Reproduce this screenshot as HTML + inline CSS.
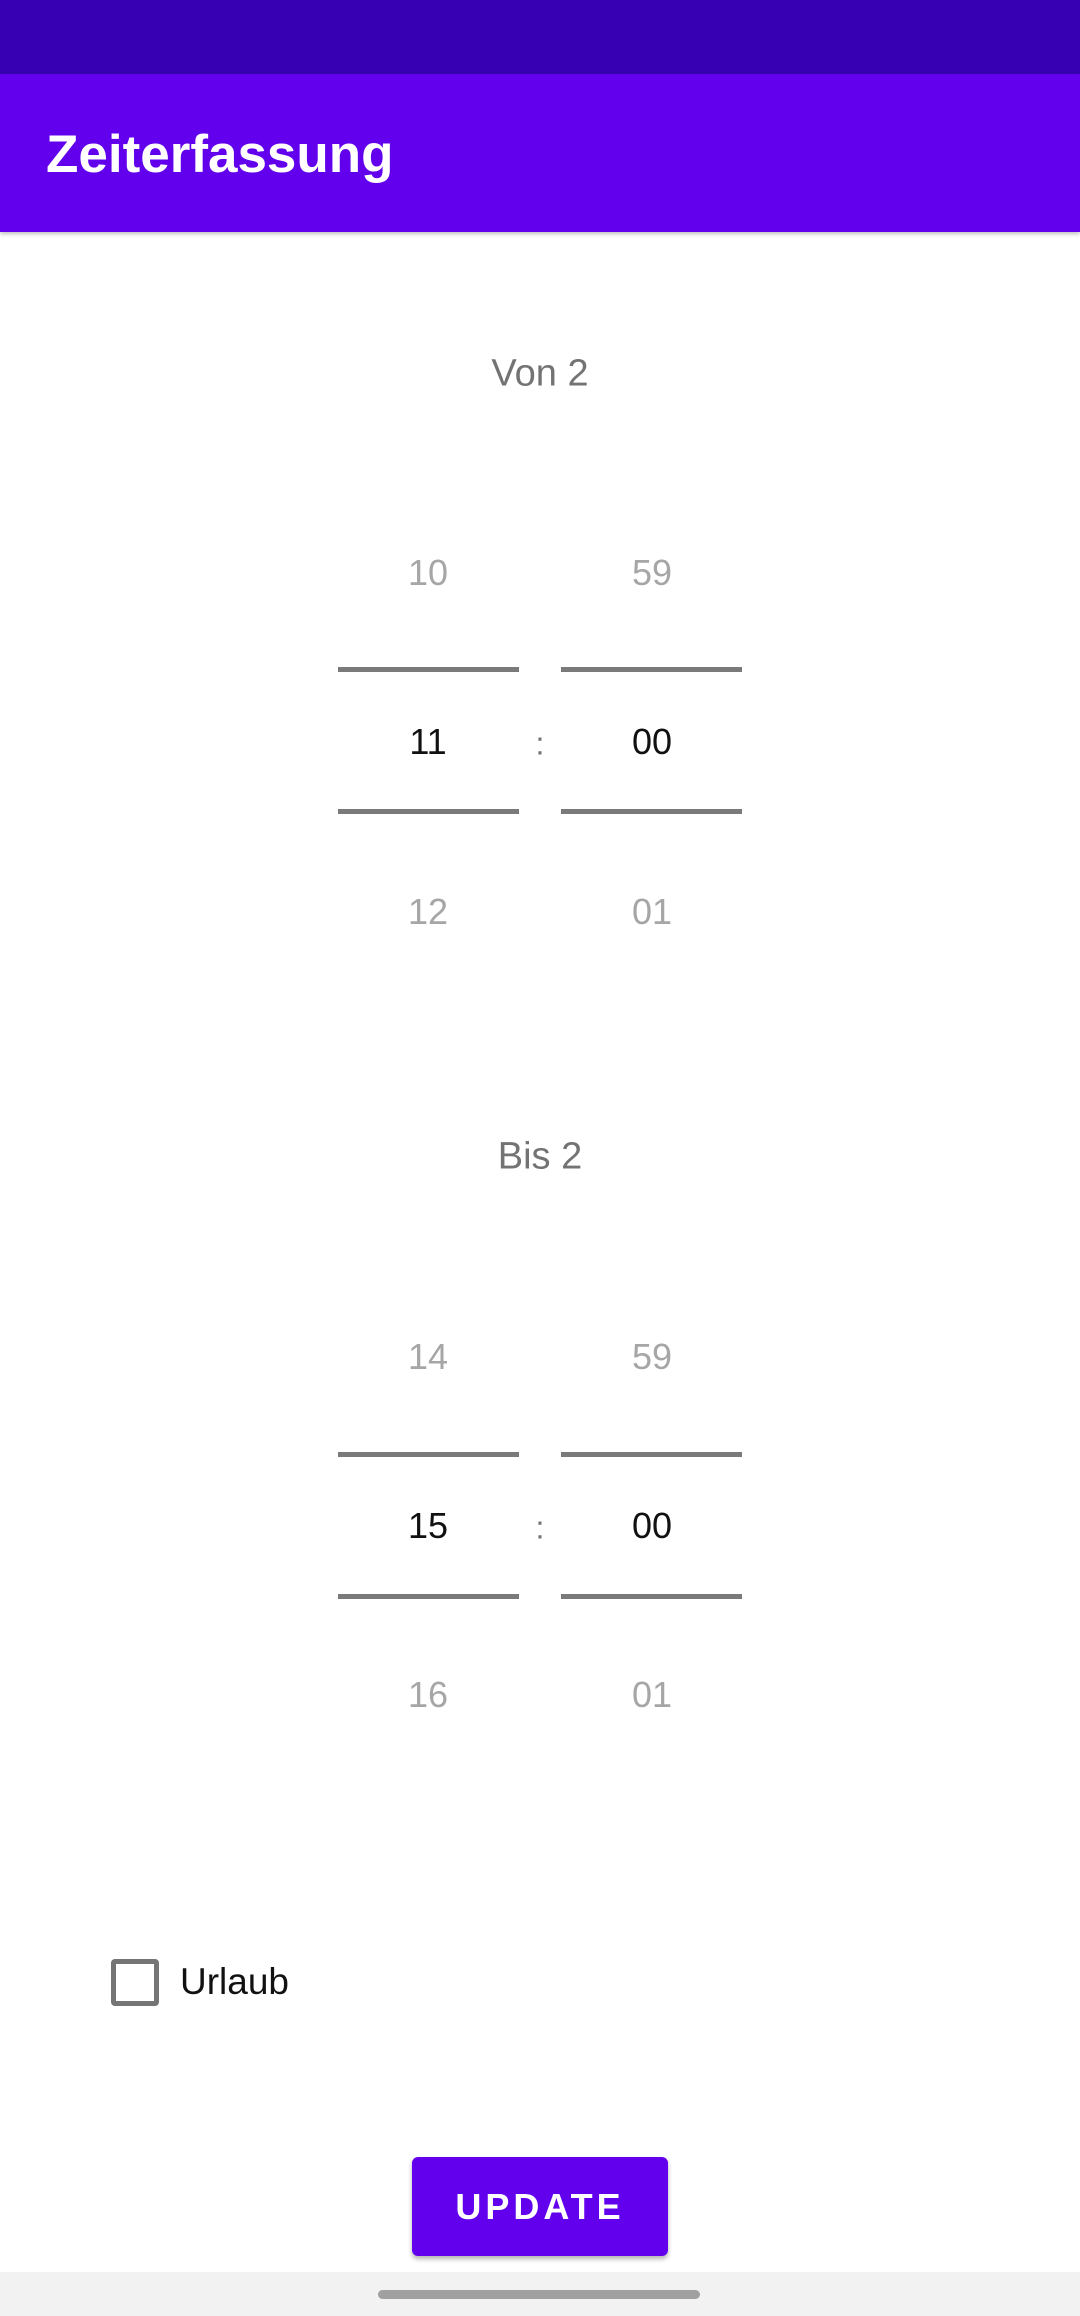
<!DOCTYPE html>
<html><head><meta charset="utf-8"><style>
*{margin:0;padding:0;box-sizing:border-box}
body{width:1080px;height:2316px;position:relative;background:#fff;font-family:"Liberation Sans",sans-serif;overflow:hidden}
.abs{position:absolute}
.c{transform:translate(-50%,-50%);white-space:nowrap}
.num{font-size:36px;color:#a6a6a6}
.sel{font-size:36px;color:#111}
.line{height:5px;background:#7a7a7a;width:181px}
</style></head><body>
<div class="abs" style="left:0;top:0;width:1080px;height:74px;background:#3700b3"></div>
<div class="abs" style="left:0;top:74px;width:1080px;height:158px;background:#6200ee;box-shadow:0 2px 4px rgba(0,0,0,.25)">
 <div class="abs" style="left:46px;top:50px;font-size:53px;color:#fff;font-weight:bold">Zeiterfassung</div>
</div>

<div class="abs c" style="left:540px;top:374px;font-size:38px;color:#737373">Von 2</div>
<div>
 <div class="abs c num" style="left:428px;top:573px">10</div>
 <div class="abs line" style="left:338px;top:667px"></div>
 <div class="abs c sel" style="left:428px;top:742px">11</div>
 <div class="abs line" style="left:338px;top:809px"></div>
 <div class="abs c num" style="left:428px;top:912px">12</div>
 <div class="abs c" style="left:540px;top:744px;font-size:32px;color:#737373">:</div>
 <div class="abs c num" style="left:652px;top:573px">59</div>
 <div class="abs line" style="left:561px;top:667px"></div>
 <div class="abs c sel" style="left:652px;top:742px">00</div>
 <div class="abs line" style="left:561px;top:809px"></div>
 <div class="abs c num" style="left:652px;top:912px">01</div>
</div>

<div class="abs c" style="left:540px;top:1157px;font-size:38px;color:#737373">Bis 2</div>
<div>
 <div class="abs c num" style="left:428px;top:1357px">14</div>
 <div class="abs line" style="left:338px;top:1452px"></div>
 <div class="abs c sel" style="left:428px;top:1526px">15</div>
 <div class="abs line" style="left:338px;top:1594px"></div>
 <div class="abs c num" style="left:428px;top:1695px">16</div>
 <div class="abs c" style="left:540px;top:1528px;font-size:32px;color:#737373">:</div>
 <div class="abs c num" style="left:652px;top:1357px">59</div>
 <div class="abs line" style="left:561px;top:1452px"></div>
 <div class="abs c sel" style="left:652px;top:1526px">00</div>
 <div class="abs line" style="left:561px;top:1594px"></div>
 <div class="abs c num" style="left:652px;top:1695px">01</div>
</div>

<div class="abs" style="left:111px;top:1959px;width:48px;height:47px;border:5px solid #757575;border-radius:4px"></div>
<div class="abs" style="left:180px;top:1961px;font-size:37px;color:#111">Urlaub</div>

<div class="abs" style="left:412px;top:2157px;width:256px;height:99px;background:#6200ee;border-radius:6px;box-shadow:0 3px 5px rgba(0,0,0,.3);color:#fff;font-size:36px;font-weight:bold;letter-spacing:4px;text-align:center;line-height:99px">UPDATE</div>

<div class="abs" style="left:0;top:2272px;width:1080px;height:44px;background:#f2f2f2"></div>
<div class="abs" style="left:378px;top:2290px;width:322px;height:9px;border-radius:5px;background:#a0a0a0"></div>
</body></html>
